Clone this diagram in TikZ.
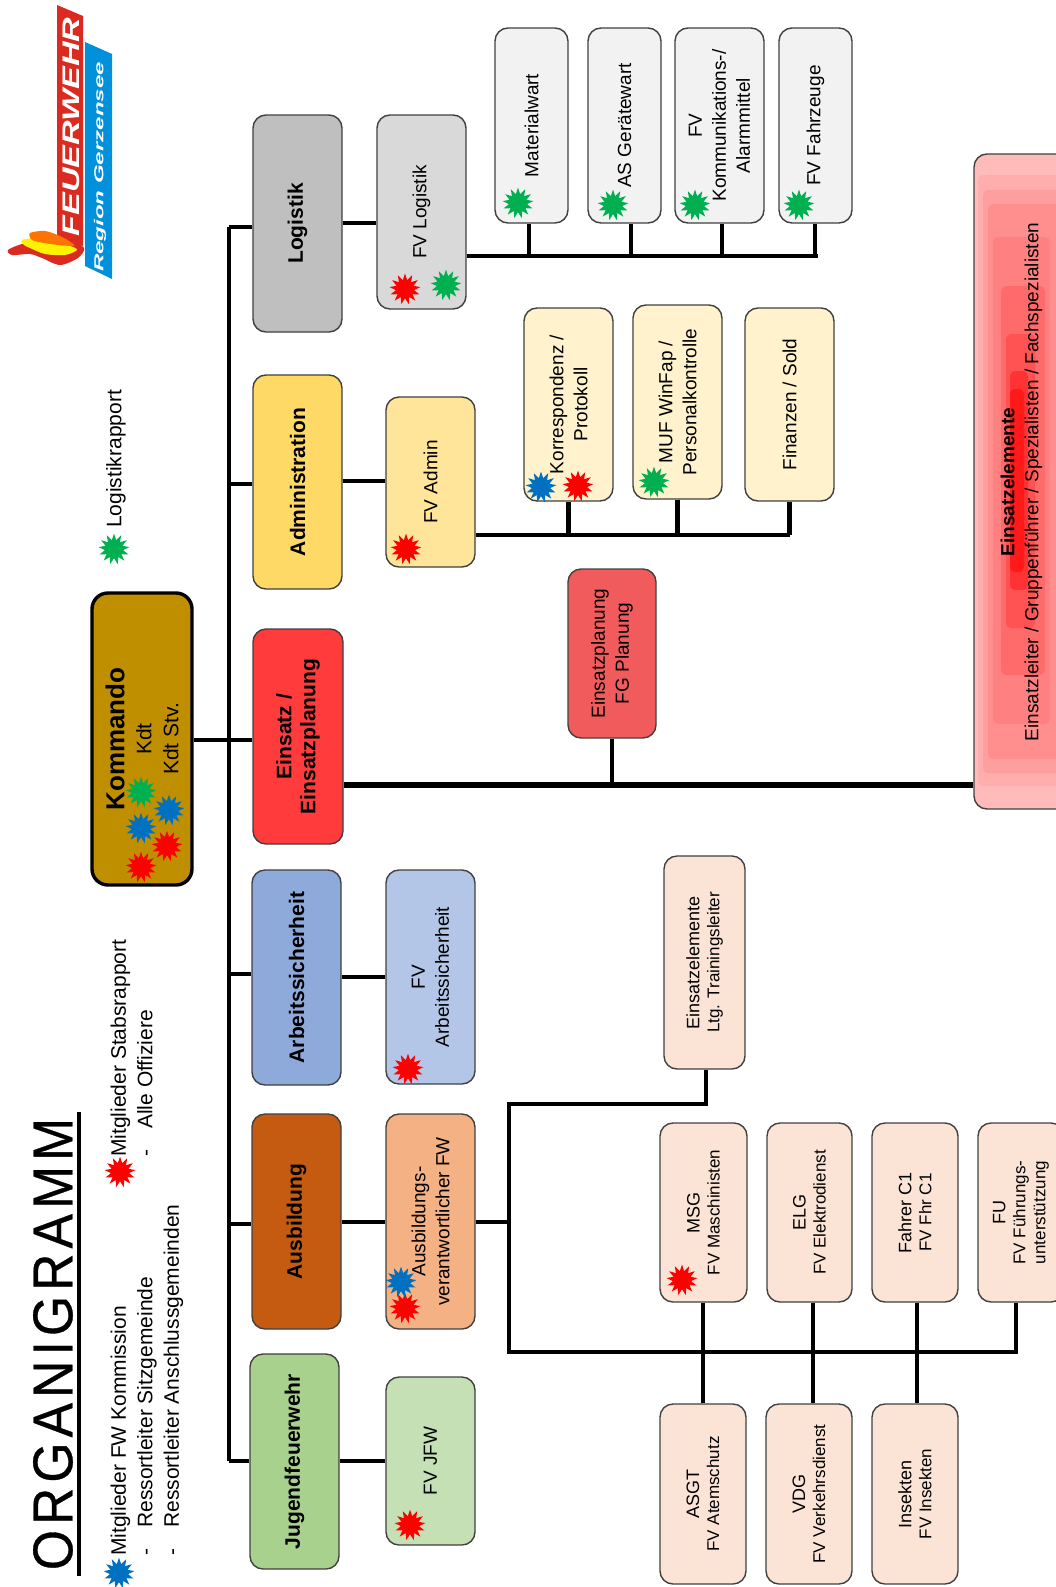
\documentclass[tikz,border=0pt]{standalone}
\usepackage{fontspec}
\setmainfont{Liberation Sans}
\newfontfamily\titlefont[LetterSpace = 10, FakeBold = 0.6]{Liberation Sans}
\usetikzlibrary{
    shapes.geometric,
    calc
}
\definecolor{burstred}{HTML}{FF0000}
\definecolor{burstgreen}{HTML}{00B050}
\definecolor{burstblue}{HTML}{0070C0}
\definecolor{kommandofill}{HTML}{BF8F00}
\definecolor{logistikfill}{HTML}{BFBFBF}
\definecolor{fvlogistikfill}{HTML}{D9D9D9}
\definecolor{grayfill}{HTML}{F2F2F2}
\definecolor{adminfill}{HTML}{FFD966}
\definecolor{fvadminfill}{HTML}{FFE599}
\definecolor{creamfill}{HTML}{FFF2CC}
\definecolor{einsatzfill}{HTML}{FF3B3B}
\definecolor{planungfill}{HTML}{F15B5B}
\definecolor{arbeitfill}{HTML}{8EAADB}
\definecolor{fvarbeitfill}{HTML}{B4C6E7}
\definecolor{ausbfill}{HTML}{C55A11}
\definecolor{fvausbfill}{HTML}{F4B183}
\definecolor{peachfill}{HTML}{FBE4D5}
\definecolor{jugendfill}{HTML}{A9D18E}
\definecolor{fvjfwfill}{HTML}{C5E0B4}
\definecolor{logored}{HTML}{DB2A20}
\definecolor{logoblue}{HTML}{0090DC}
\tikzset {
    box/.style = {
        draw = black!75, line width = 1.4pt, rounded corners = 13pt, rotate = 90,
        align = center, inner sep = 0pt, font = \fontsize{19}{24}\selectfont
    },
    head/.style = {box, font = \fontsize{21}{24}\selectfont\bfseries},
    small/.style = {box, fill = peachfill, font = \fontsize{17}{20}\selectfont},
    link/.style = {line width = 3.6pt},
    bus/.style = {line width = 4.2pt},
    burst/.style = {
        star, star points = 13, star point ratio = 1.7,
        minimum size = 31pt, inner sep = 0pt, fill = #1
    },
    legend/.style = {
        rotate = 90, anchor = west, inner sep = 0pt, align = left,
        font = \fontsize{21}{26.5}\selectfont
    }
}
\begin{document}
\begin{tikzpicture}[x = 1pt, y = -1pt]
    \useasboundingbox (0, 0) rectangle (1056, 1587);
    % logo
    \fill [logored] (57, 5) -- (83, 16) -- (83, 246) -- (57, 236) -- cycle;
    \fill [logoblue] (85, 42) -- (112, 54) -- (112, 279) -- (85, 266) -- cycle;
    \fill [logored] plot [smooth cycle] coordinates {(8, 250) (22, 244) (45, 240) (70, 240) (84, 248) (78, 258) (60, 265) (42, 258) (30, 254) (12, 255)};
    \fill [yellow] plot [smooth cycle] coordinates {(22, 240) (38, 238) (50, 243) (70, 246) (77, 250) (65, 255) (45, 254) (30, 248) (24, 245)};
    \fill [orange!90!red] plot [smooth cycle] coordinates {(30, 233) (45, 231) (60, 236) (72, 243) (74, 246) (58, 245) (44, 243) (32, 240)};
    \node (logoa) [rotate = 90, white, inner sep = 0pt, font = \fontsize{24}{24}\selectfont\bfseries\itshape] at (71, 127) {\scalebox{1.42}[1]{FEUERWEHR}};
    \node (logob) [rotate = 90, white, inner sep = 0pt, font = \fontsize{13}{13}\selectfont\bfseries\itshape] at (100, 167) {\scalebox{1.85}[1]{Region Gerzensee}};
    % title and legend
    \node (title) [rotate = 90, inner sep = 6pt, minimum width = 461pt, font = \fontsize{56}{56}\selectfont\titlefont] at (53, 1344) {\scalebox{.92}[1]{ORGANIGRAMM}};
    \draw [line width = 3.2pt] (title.south west) -- (title.south east);
    \node (legkomm) [legend] at (147, 1556) {Mitglieder FW Kommission\\-\hspace{21pt}Ressortleiter Sitzgemeinde\\-\hspace{21pt}Ressortleiter Anschlussgemeinden};
    \node (legstab) [legend] at (131.5, 1157) {Mitglieder Stabsrapport\\-\hspace{21pt}Alle Offiziere};
    \node (leglog) [legend] at (116, 528) {Logistikrapport};
    % top level
    \node (kommando) [box, draw = black, line width = 3.4pt, rounded corners = 16pt, fill = kommandofill, minimum width = 292pt, minimum height = 100pt, font = \fontsize{21}{27}\selectfont] at (142, 739) {{\fontsize{26}{27}\selectfont\bfseries Kommando}\\Kdt\\Kdt Stv.};
    \node (logistik) [head, fill = logistikfill, minimum width = 217pt, minimum height = 89pt] at (297.5, 223.5) {Logistik};
    \node (admin) [head, fill = adminfill, minimum width = 214pt, minimum height = 89pt] at (297.5, 482) {Administration};
    \node (einsatz) [head, fill = einsatzfill, minimum width = 215pt, minimum height = 90pt] at (298, 736.5) {Einsatz /\\Einsatzplanung};
    \node (arbeit) [head, fill = arbeitfill, minimum width = 215pt, minimum height = 89pt] at (296.5, 977.5) {Arbeitssicherheit};
    \node (ausbildung) [head, fill = ausbfill, minimum width = 215pt, minimum height = 89pt] at (296.5, 1221.5) {Ausbildung};
    \node (jugend) [head, fill = jugendfill, minimum width = 215pt, minimum height = 89pt] at (294.5, 1461.5) {Jugendfeuerwehr};
    % second level
    \node (fvlogistik) [box, fill = fvlogistikfill, minimum width = 194pt, minimum height = 89pt] at (421.5, 212) {FV Logistik};
    \node (fvadmin) [box, fill = fvadminfill, minimum width = 170pt, minimum height = 89pt] at (430.5, 482) {FV Admin};
    \node (planung) [box, fill = planungfill, minimum width = 169pt, minimum height = 88pt] at (612, 653.5) {Einsatzplanung\\FG Planung};
    \node (fvarbeit) [box, fill = fvarbeitfill, minimum width = 214pt, minimum height = 89pt] at (430.5, 977) {FV\\Arbeitssicherheit};
    \node (fvausb) [box, fill = fvausbfill, minimum width = 215pt, minimum height = 89pt] at (430.5, 1221.5) {Ausbildungs-\\verantwortlicher FW};
    \node (fvjfw) [box, fill = fvjfwfill, minimum width = 168pt, minimum height = 89pt] at (430.5, 1461) {FV JFW};
    % logistik
    \node (material) [box, fill = grayfill, minimum width = 195pt, minimum height = 73pt] at (531.5, 125.5) {Materialwart};
    \node (geraete) [box, fill = grayfill, minimum width = 195pt, minimum height = 73pt] at (624.5, 125.5) {AS Gerätewart};
    \node (alarm) [box, fill = grayfill, minimum width = 195pt, minimum height = 89pt] at (719.5, 125.5) {FV\\Kommunikations-/\\Alarmmittel};
    \node (fahrzeuge) [box, fill = grayfill, minimum width = 195pt, minimum height = 73pt] at (815.5, 125.5) {FV Fahrzeuge};
    % administration
    \node (korrespondenz) [box, fill = creamfill, minimum width = 193pt, minimum height = 89pt] at (568.5, 404.5) {Korrespondenz /\\Protokoll};
    \node (winfap) [box, fill = creamfill, minimum width = 194pt, minimum height = 89pt] at (677.5, 402) {MUF WinFap /\\Personalkontrolle};
    \node (finanzen) [box, fill = creamfill, minimum width = 193pt, minimum height = 89pt] at (789.5, 404.5) {Finanzen / Sold};
    % ausbildung
    \node (leitung) [small, minimum width = 213pt, minimum height = 81pt] at (704.5, 962.5) {{\fontsize{18}{20}\selectfont Einsatzelemente}\\Ltg. Trainingsleiter};
    \node (msg) [small, minimum width = 179pt, minimum height = 87pt] at (703.5, 1212.5) {{\fontsize{18}{20}\selectfont MSG}\\FV Maschinisten};
    \node (elg) [small, minimum width = 179pt, minimum height = 85pt] at (809.5, 1212.5) {{\fontsize{18}{20}\selectfont ELG}\\FV Elektrodienst};
    \node (fahrer) [small, minimum width = 179pt, minimum height = 86pt] at (915, 1212.5) {{\fontsize{18}{20}\selectfont Fahrer C1}\\FV Fhr C1};
    \node (fu) [small, minimum width = 179pt, minimum height = 86pt] at (1021, 1212.5) {{\fontsize{18}{20}\selectfont FU}\\FV Führungs-\\unterstützung};
    \node (asgt) [small, minimum width = 180pt, minimum height = 86pt] at (703, 1494) {{\fontsize{18}{20}\selectfont ASGT}\\FV Atemschutz};
    \node (vdg) [small, minimum width = 180pt, minimum height = 86pt] at (809, 1494) {{\fontsize{18}{20}\selectfont VDG}\\FV Verkehrsdienst};
    \node (insekten) [small, minimum width = 180pt, minimum height = 86pt] at (915, 1494) {{\fontsize{18}{20}\selectfont Insekten}\\FV Insekten};
    % einsatzelemente
    \node (elemente) [box, fill = red!27!white, minimum width = 655pt, minimum height = 96pt] at (1022, 481.5) {};
    \foreach \xa/\ya/\xb/\yb/\tone in {
        978/175/1070/786/32, 983/190/1070/773/38, 988/204/1070/759/44, 993/237/1050/724/50,
        1001/286/1045/675/58, 1006/334/1035/628/68, 1010/371/1028/590/80, 1010/389/1024/572/90} {
        \fill [red!\tone!white, rounded corners = 5pt] (\xa, \ya) rectangle (\xb, \yb);
    }
    \node (elementetext) [rotate = 90, align = center, inner sep = 0pt, font = \fontsize{19}{24}\selectfont] at (1021.5, 482) {{\bfseries Einsatzelemente}\\Einsatzleiter / Gruppenführer / Spezialisten / Fachspezialisten};
    % connectors
    \coordinate (trunktop) at (229, 227);
    \coordinate (trunkbot) at (229, 1461);
    \draw [link] (trunktop) -- (trunkbot);
    \draw [link] (trunktop) -- (logistik.north |- trunktop);
    \draw [link] (229, 484) -- (admin.north |- 229, 484);
    \draw [link] (kommando.south |- 0, 740) -- (einsatz.north |- 0, 740);
    \draw [link] (229, 974) -- (arbeit.north |- 229, 974);
    \draw [link] (229, 1224) -- (ausbildung.north |- 229, 1224);
    \draw [link] (trunkbot) -- (jugend.north |- trunkbot);
    \draw [link] (logistik.south |- 0, 223) -- (fvlogistik.north |- 0, 223);
    \draw [bus] (admin.south |- 0, 481) -- (fvadmin.north |- 0, 481);
    \draw [bus] (arbeit.south |- 0, 977) -- (fvarbeit.north |- 0, 977);
    \draw [bus] (ausbildung.south |- 0, 1222) -- (fvausb.north |- 0, 1222);
    \draw [link] (jugend.south |- fvjfw) -- (fvjfw.north);
    % logistik bus
    \coordinate (logbus) at (0, 256);
    \draw [bus] (fvlogistik.south |- logbus) -- (818, 256);
    \foreach \name/\xstub in {material/529, geraete/631, alarm/722, fahrzeuge/815} {
        \draw [bus] (\name.west -| \xstub, 0) -- (\xstub, 256);
    }
    % admin bus
    \coordinate (admbus) at (0, 535);
    \draw [bus] (fvadmin.south |- admbus) -- (finanzen.west |- admbus);
    \draw [bus] (korrespondenz.west) -- (korrespondenz.west |- admbus);
    \draw [bus] (winfap.west) -- (winfap.west |- admbus);
    \draw [bus] (finanzen.west) -- (finanzen.west |- admbus);
    % einsatz
    \coordinate (einbus) at (0, 785);
    \draw [line width = 5.4pt] (einsatz.south |- einbus) -- (elemente.north |- einbus);
    \draw [bus] (planung.west) -- (planung.west |- einbus);
    % ausbildung bus
    \coordinate (ausbus) at (509, 1352);
    \draw [bus] (fvausb.south |- 0, 1222) -- (509, 1222);
    \draw [link] (leitung.west -| 706, 0) -- (706, 1104) -- (509, 1104) -- (ausbus) -- (1016, 1352) -- (fu.west -| 1016, 0);
    \draw [link] (msg.west -| 703, 0) -- (asgt.east -| 703, 0);
    \draw [link] (elg.west -| 813, 0) -- (vdg.east -| 813, 0);
    \draw [link] (fahrer.west -| 917, 0) -- (insekten.east -| 917, 0);
    % bursts
    \foreach \p [count = \i] in {(120, 1172), (167, 846), (141, 867), (405, 289), (406, 549), (578, 486), (408, 1069), (405, 1308), (682, 1280), (410, 1525)} {
        \node (red\i) [burst = burstred] at \p {};
    }
    \foreach \p [count = \i] in {(114, 549), (141, 792), (446, 285), (518, 203), (613, 205), (695, 205), (799, 205), (654, 482)} {
        \node (green\i) [burst = burstgreen] at \p {};
    }
    \foreach \p [count = \i] in {(119, 1573), (169, 810), (141, 828), (541, 487), (401, 1282)} {
        \node (blue\i) [burst = burstblue] at \p {};
    }
\end{tikzpicture}
\end{document}
